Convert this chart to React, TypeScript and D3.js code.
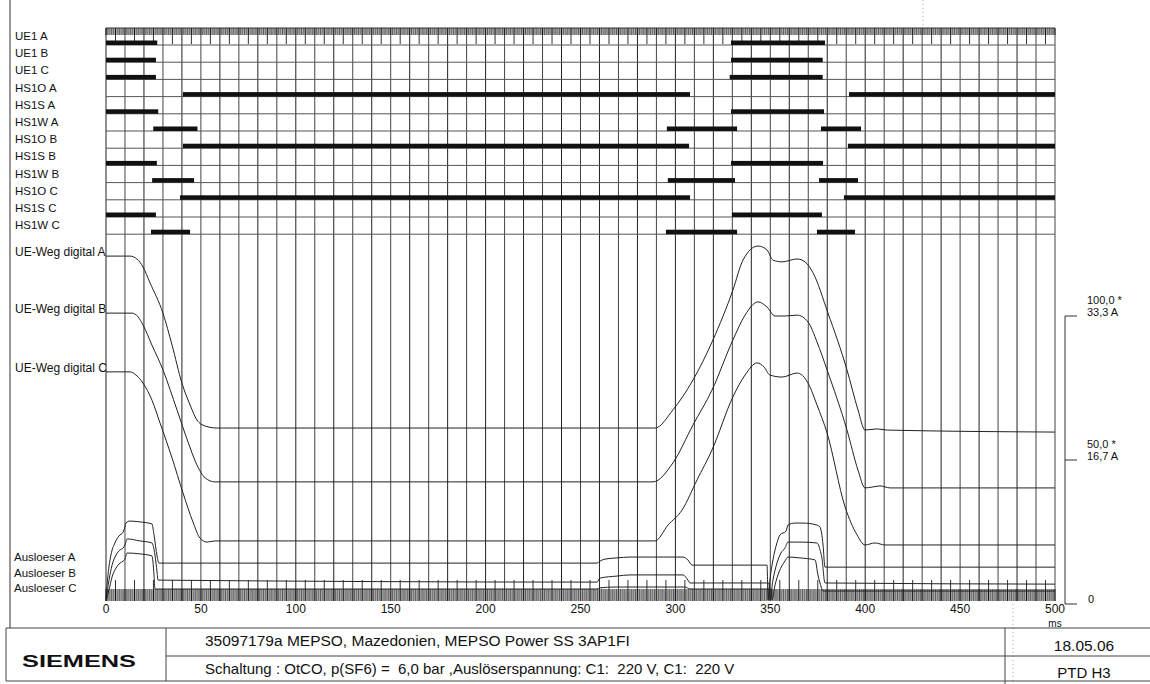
import { useEffect, useRef } from 'react';
import * as d3 from 'd3';

const W = 1150;
const H = 684;

const timeTicks = [0, 50, 100, 150, 200, 250, 300, 350, 400, 450, 500];

// digital channels: on-intervals in ms
const UE1_A = [[0, 27], [329.3, 378.8]];
const UE1_B = [[0, 26.3], [329.3, 377.6]];
const UE1_C = [[0, 26.3], [328.6, 377.6]];
const HS1O_A = [[40.5, 307.7], [391.5, 500]];
const HS1S_A = [[0, 27.5], [329.3, 378.3]];
const HS1W_A = [[24.9, 48.2], [295.5, 332.5], [376.7, 397.8]];
const HS1O_B = [[40.5, 307.2], [390.9, 500]];
const HS1S_B = [[0, 26.8], [329.3, 377.8]];
const HS1W_B = [[24.3, 46.4], [296, 331.4], [375.7, 396.2]];
const HS1O_C = [[39, 307.7], [388.8, 500]];
const HS1S_C = [[0, 26.3], [329.8, 377.2]];
const HS1W_C = [[23.7, 44.3], [295, 332.5], [374.6, 394.6]];

const digitalLabels = ['UE1 A', 'UE1 B', 'UE1 C', 'HS1O A', 'HS1S A', 'HS1W A',
  'HS1O B', 'HS1S B', 'HS1W B', 'HS1O C', 'HS1S C', 'HS1W C'];
const digitalValues = [UE1_A, UE1_B, UE1_C, HS1O_A, HS1S_A, HS1W_A,
  HS1O_B, HS1S_B, HS1W_B, HS1O_C, HS1S_C, HS1W_C];

// analog channels: [ms, value on the right scale]
const WEG_A = [[0, 120.8], [12.6, 120.8], [16.3, 119.8], [19.5, 117.0], [23.2, 111.5], [30.0, 101.0],
  [34.8, 89.9], [40.0, 76.7], [44.3, 69.1], [47.9, 63.9], [52.2, 61.8], [58.5, 61.1], [289.3, 61.1],
  [298.7, 67.4], [309.3, 77.8], [319.8, 91.7], [330.3, 109.0], [335.6, 119.4], [343.5, 124.3],
  [348.3, 122.9], [351.4, 119.4], [356.2, 118.8], [364.1, 119.8], [368.3, 118.8], [372.5, 115.0],
  [380.4, 101.0], [390.4, 81.3], [396.2, 67.4], [399.9, 60.4], [406.2, 60.8], [411.5, 60.4], [500, 59.7]];
const WEG_B = [[0, 101.0], [13.7, 101.0], [16.9, 99.7], [19.5, 96.9], [24.2, 89.9], [30.0, 81.3],
  [37.4, 67.4], [43.2, 56.3], [47.9, 48.3], [52.2, 43.8], [57.4, 42.4], [288.2, 42.4], [298.7, 49.0],
  [309.3, 62.2], [319.3, 74.3], [330.3, 91.7], [336.7, 100.3], [343.5, 104.9], [348.3, 103.1],
  [352.5, 100.0], [357.7, 100.0], [364.1, 100.3], [369.9, 97.9], [374.6, 91.0], [379.9, 81.3],
  [390.4, 60.4], [396.2, 46.5], [399.9, 40.3], [403.6, 40.6], [407.8, 41.0], [413.1, 40.3], [500, 40.3]];
const WEG_C = [[0, 80.6], [12.6, 80.6], [15.8, 79.5], [19.5, 76.7], [24.2, 70.8], [28.5, 62.8],
  [34.8, 50.7], [40.6, 38.5], [45.8, 28.5], [49.5, 22.9], [53.2, 21.5], [57.4, 21.9], [289.3, 21.9],
  [296.1, 27.4], [303.5, 32.6], [311.4, 43.1], [319.3, 53.5], [330.3, 71.9], [336.7, 79.5],
  [343.0, 83.7], [346.7, 82.3], [349.8, 79.5], [356.2, 78.8], [364.1, 80.2], [369.9, 76.7],
  [374.6, 69.1], [379.9, 59.4], [389.4, 33.7], [395.7, 24.0], [399.9, 20.5], [405.2, 21.2],
  [410.4, 20.5], [500, 20.5]];

const AUSL_A = [[0, 2.1], [1.05, 10.1], [2.6, 17.0], [4.7, 21.2], [6.8, 23.6], [9.0, 25.0], [9.5, 25.7],
  [10.5, 28.1], [12.6, 28.8], [17.9, 28.5], [24.2, 27.8], [25.3, 24.0], [26.9, 16.7], [27.9, 14.2],
  [258.7, 14.2], [260.3, 14.9], [262.9, 15.6], [269.2, 16.0], [276.1, 16.3], [304.0, 16.3],
  [306.6, 15.3], [308.8, 13.5], [348.3, 13.5], [348.8, 1.4], [349.8, 8.3], [351.4, 15.3],
  [353.5, 21.2], [355.1, 24.0], [358.3, 25.3], [359.3, 27.4], [363.0, 28.1], [367.2, 28.1],
  [374.6, 27.4], [376.2, 26.7], [377.8, 20.5], [378.8, 12.8], [500, 12.8]];
const AUSL_B = [[0, 1.4], [1.6, 8.3], [3.2, 13.5], [5.3, 17.0], [7.4, 18.8], [9.0, 19.4], [10.0, 20.5],
  [11.1, 22.6], [17.9, 21.9], [24.2, 21.2], [25.8, 17.0], [26.9, 11.1], [27.4, 8.3], [258.7, 7.6],
  [260.3, 9.0], [269.2, 9.7], [276.1, 10.1], [304.0, 10.1], [306.6, 8.3], [307.7, 7.3], [349.3, 7.3],
  [349.8, 1.4], [351.4, 8.3], [353.5, 14.2], [355.6, 17.7], [357.7, 19.4], [359.3, 21.5],
  [365.6, 21.5], [374.6, 21.2], [376.2, 18.8], [377.2, 16.0], [378.8, 7.3], [500, 6.9]];
const AUSL_C = [[0, 1.0], [1.6, 4.9], [3.2, 9.4], [5.3, 12.5], [7.4, 14.2], [9.0, 14.9], [10.0, 15.6],
  [11.1, 17.7], [17.9, 17.4], [24.2, 16.7], [25.3, 10.1], [25.8, 5.2], [258.7, 5.2], [260.3, 5.6],
  [268.2, 5.9], [305.1, 5.9], [307.7, 5.2], [350.4, 5.2], [350.9, 1.4], [352.5, 6.6], [354.6, 11.1],
  [357.7, 14.9], [359.3, 16.3], [365.6, 16.0], [373.6, 15.3], [375.1, 10.1], [376.2, 7.3],
  [377.8, 4.5], [500, 4.5]];

const wegLabels = ['UE-Weg digital A', 'UE-Weg digital B', 'UE-Weg digital C'];
const auslLabels = ['Ausloeser A', 'Ausloeser B', 'Ausloeser C'];

const scaleValues = [100, 50, 0];
const scaleLabels = [['100,0 *', '33,3 A'], ['50,0 *', '16,7 A'], ['0']];

const FONT = '"Liberation Sans", Arial, sans-serif';

const App = () => {
  const svgRef = useRef(null);

  useEffect(() => {
    const svg = d3.select(svgRef.current);
    svg.selectAll('*').remove();

    const x = d3.scaleLinear().domain([0, 500]).range([106, 1055]);
    const row = d3.scaleBand().domain(digitalLabels).range([27.8, 234.2]);
    const bw = row.bandwidth();
    const y = d3.scaleLinear().domain([0, 100]).range([604, 316]);

    const top = 28;
    const bandTop = 589;
    const bandBot = 601;

    svg.append('rect').attr('width', W).attr('height', H).attr('fill', '#fff');

    // page border left + faint scan creases
    svg.append('line').attr('x1', 10).attr('x2', 10).attr('y1', 0).attr('y2', 628)
      .attr('stroke', '#333').attr('stroke-width', 1);
    svg.append('line').attr('x1', 923).attr('x2', 923).attr('y1', 0).attr('y2', 27)
      .attr('stroke', '#aaa').attr('stroke-dasharray', '1,3');
    svg.append('line').attr('x1', 1013).attr('x2', 1013).attr('y1', 604).attr('y2', 684)
      .attr('stroke', '#aaa').attr('stroke-dasharray', '1,3');

    const grid = svg.append('g');
    const ms = d3.range(0, 501, 1);

    // hatched time bands (top and bottom)
    [[top, top + 7], [bandTop, bandBot]].forEach(([a, b]) => {
      grid.append('rect').attr('x', x(0)).attr('y', a).attr('width', x(500) - x(0)).attr('height', b - a)
        .attr('fill', '#b0b0b0');
      grid.append('g').selectAll('line').data(ms).join('line')
        .attr('x1', (d) => x(d)).attr('x2', (d) => x(d)).attr('y1', a).attr('y2', b)
        .attr('stroke', (d) => (d % 5 === 0 ? '#111' : d % 2 ? '#444' : '#666'))
        .attr('stroke-width', (d) => (d % 5 === 0 ? 1 : 0.8));
    });

    // 5 ms ticks
    const fives = d3.range(5, 500, 10);
    grid.append('g').selectAll('line').data(fives).join('line')
      .attr('x1', (d) => x(d)).attr('x2', (d) => x(d)).attr('y1', top + 7).attr('y2', top + 16)
      .attr('stroke', '#333').attr('stroke-width', 1);
    grid.append('g').selectAll('line').data(fives).join('line')
      .attr('x1', (d) => x(d)).attr('x2', (d) => x(d)).attr('y1', bandTop - 9).attr('y2', bandTop)
      .attr('stroke', '#333').attr('stroke-width', 1);

    // 10 ms grid lines
    grid.append('g').selectAll('line').data(d3.range(10, 500, 10)).join('line')
      .attr('x1', (d) => x(d)).attr('x2', (d) => x(d)).attr('y1', top + 7).attr('y2', bandBot)
      .attr('stroke', (d) => (d % 20 === 0 ? '#222' : '#444')).attr('stroke-width', 1);

    // frame
    grid.append('line').attr('x1', x(0)).attr('x2', x(0)).attr('y1', top).attr('y2', bandBot)
      .attr('stroke', '#222');
    grid.append('line').attr('x1', x(500)).attr('x2', x(500)).attr('y1', top).attr('y2', bandBot)
      .attr('stroke', '#444');
    grid.append('line').attr('x1', x(0)).attr('x2', x(500)).attr('y1', top).attr('y2', top)
      .attr('stroke', '#333');

    // digital rows
    const rows = digitalLabels.map((label, i) => ({ label, on: digitalValues[i] }));
    const rg = svg.append('g').selectAll('g').data(rows).join('g');
    rg.append('line')
      .attr('x1', x(0)).attr('x2', x(500))
      .attr('y1', (d) => row(d.label) + bw).attr('y2', (d) => row(d.label) + bw)
      .attr('stroke', '#555').attr('stroke-width', 1);
    rg.selectAll('rect').data((d) => d.on.map((iv) => ({ iv, label: d.label }))).join('rect')
      .attr('x', (d) => x(d.iv[0])).attr('width', (d) => x(d.iv[1]) - x(d.iv[0]))
      .attr('y', (d) => row(d.label) + bw - 4.5).attr('height', 4.5)
      .attr('fill', '#111');
    rg.append('text')
      .attr('x', 15).attr('y', (d) => row(d.label) + bw - 9).attr('dy', '0.35em')
      .attr('font-family', FONT).attr('font-size', 11.5).attr('fill', '#111')
      .text((d) => d.label);

    // analog traces
    const line = d3.line().x((d) => x(d[0])).y((d) => y(d[1])).curve(d3.curveMonotoneX);
    const traces = [WEG_A, WEG_B, WEG_C, AUSL_A, AUSL_B, AUSL_C];
    svg.append('g').selectAll('path').data(traces).join('path')
      .attr('d', (d) => line(d))
      .attr('fill', 'none').attr('stroke', '#222').attr('stroke-width', 1);

    const wegs = [WEG_A, WEG_B, WEG_C];
    svg.append('g').selectAll('text').data(wegLabels).join('text')
      .attr('x', 15).attr('y', (d, i) => y(wegs[i][0][1]) - 4).attr('dy', '0.35em')
      .attr('font-family', FONT).attr('font-size', 12).attr('fill', '#111')
      .text((d) => d);

    svg.append('g').selectAll('text').data(auslLabels).join('text')
      .attr('x', 14).attr('y', (d, i) => 557 + i * 15.5).attr('dy', '0.35em')
      .attr('font-family', FONT).attr('font-size', 11.5).attr('fill', '#111')
      .text((d) => d);

    // time axis labels
    svg.append('g').selectAll('text').data(timeTicks).join('text')
      .attr('x', (d) => x(d)).attr('y', 609).attr('dy', '0.35em')
      .attr('text-anchor', 'middle').attr('font-family', FONT).attr('font-size', 12)
      .attr('fill', '#111').text((d) => d);
    svg.append('text').attr('x', x(500)).attr('y', 623).attr('dy', '0.35em')
      .attr('text-anchor', 'middle').attr('font-family', FONT).attr('font-size', 10)
      .attr('fill', '#111').text('ms');

    // right scale bracket
    const sx = 1065;
    svg.append('line').attr('x1', sx).attr('x2', sx).attr('y1', y(0)).attr('y2', y(100))
      .attr('stroke', '#333');
    svg.append('g').selectAll('line').data(scaleValues).join('line')
      .attr('x1', sx).attr('x2', sx + 12).attr('y1', (d) => y(d)).attr('y2', (d) => y(d))
      .attr('stroke', '#333');
    scaleValues.forEach((v, i) => {
      const lbl = scaleLabels[i];
      lbl.forEach((t, j) => {
        const ty = lbl.length === 1 ? y(v) - 5 : y(v) - 16 + j * 12;
        svg.append('text').attr('x', lbl.length === 1 ? 1088 : 1087).attr('y', ty).attr('dy', '0.35em')
          .attr('font-family', FONT).attr('font-size', 11).attr('fill', '#111').text(t);
      });
    });

    // footer box
    const f = svg.append('g').attr('stroke', '#444').attr('stroke-width', 1);
    f.append('line').attr('x1', 6).attr('x2', W).attr('y1', 628).attr('y2', 628);
    f.append('line').attr('x1', 6).attr('x2', W).attr('y1', 681).attr('y2', 681);
    f.append('line').attr('x1', 6).attr('x2', 6).attr('y1', 628).attr('y2', 681);
    f.append('line').attr('x1', 166).attr('x2', 166).attr('y1', 628).attr('y2', 681);
    f.append('line').attr('x1', 166).attr('x2', W).attr('y1', 656).attr('y2', 656);
    f.append('line').attr('x1', 1005).attr('x2', 1005).attr('y1', 628).attr('y2', 684);

    svg.append('text').attr('x', 22).attr('y', 661).attr('dy', '0.35em')
      .attr('font-family', FONT).attr('font-weight', 'bold').attr('font-size', 17)
      .attr('textLength', 114).attr('lengthAdjust', 'spacingAndGlyphs')
      .attr('fill', '#111').text('SIEMENS');
    svg.append('text').attr('x', 205).attr('y', 641).attr('dy', '0.35em')
      .attr('font-family', FONT).attr('font-size', 15.5).attr('fill', '#111')
      .text('35097179a MEPSO, Mazedonien, MEPSO Power SS 3AP1FI');
    svg.append('text').attr('x', 205).attr('y', 669).attr('dy', '0.35em')
      .attr('font-family', FONT).attr('font-size', 15).attr('fill', '#111')
      .attr('xml:space', 'preserve')
      .text('Schaltung : OtCO, p(SF6) =  6,0 bar ,Auslöserspannung: C1:  220 V, C1:  220 V');
    svg.append('text').attr('x', 1084).attr('y', 646).attr('dy', '0.35em').attr('text-anchor', 'middle')
      .attr('font-family', FONT).attr('font-size', 15.5).attr('fill', '#111').text('18.05.06');
    svg.append('text').attr('x', 1084).attr('y', 673).attr('dy', '0.35em').attr('text-anchor', 'middle')
      .attr('font-family', FONT).attr('font-size', 15).attr('fill', '#111').text('PTD H3');
  }, []);

  return (
    <svg ref={svgRef} width={W} height={H}
      style={{ position: 'absolute', left: 0, top: 0, display: 'block' }} />
  );
};

export default App;
